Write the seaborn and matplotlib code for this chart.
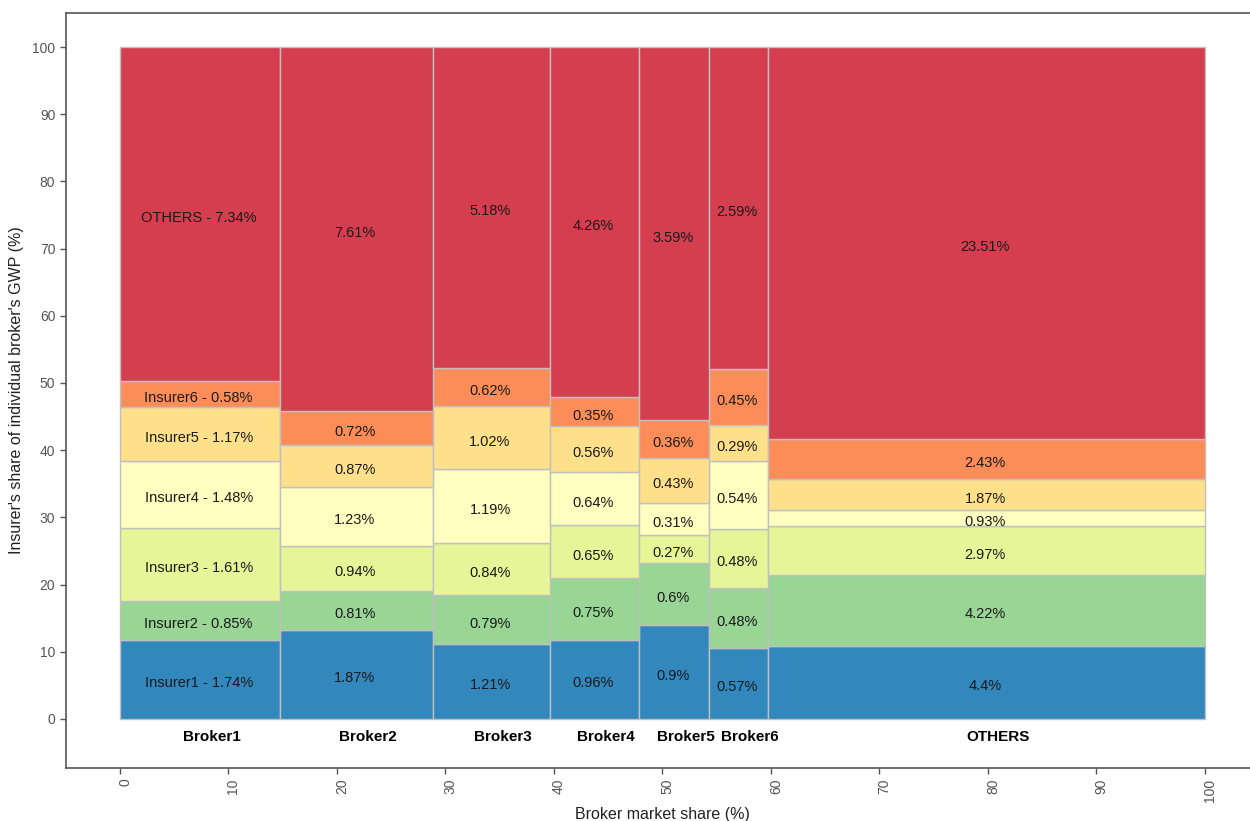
import numpy as np
import matplotlib
matplotlib.use("Agg")
import matplotlib.pyplot as plt
import matplotlib.transforms as mtransforms
import seaborn as sns

brokers = ["Broker1", "Broker2", "Broker3", "Broker4", "Broker5", "Broker6", "OTHERS"]
insurers = ["Insurer1", "Insurer2", "Insurer3", "Insurer4", "Insurer5", "Insurer6", "OTHERS"]
insurer1 = [1.74, 1.87, 1.21, 0.96, 0.9, 0.57, 4.4]
insurer2 = [0.85, 0.81, 0.79, 0.75, 0.6, 0.48, 4.22]
insurer3 = [1.61, 0.94, 0.84, 0.65, 0.27, 0.48, 2.97]
insurer4 = [1.48, 1.23, 1.19, 0.64, 0.31, 0.54, 0.93]
insurer5 = [1.17, 0.87, 1.02, 0.56, 0.43, 0.29, 1.87]
insurer6 = [0.58, 0.72, 0.62, 0.35, 0.36, 0.45, 2.43]
others = [7.34, 7.61, 5.18, 4.26, 3.59, 2.59, 23.51]
colors = ["#3288BD", "#99D594", "#E6F598", "#FFFFBF", "#FEE08B", "#FC8D59", "#D53E4F"]

sns.set_theme(style="white")
plt.rcParams["font.family"] = ["Liberation Sans", "DejaVu Sans"]
palette = sns.color_palette(colors)

vals = np.array([insurer1, insurer2, insurer3, insurer4, insurer5, insurer6, others])
widths = vals.sum(axis=0)
lefts = np.concatenate([[0], np.cumsum(widths)[:-1]])
shares = vals / widths * 100
bottoms = np.vstack([np.zeros(len(brokers)), np.cumsum(shares, axis=0)[:-1]])

fig = plt.figure(figsize=(12.5, 8.21), dpi=100)
total = widths.sum()
xmin, xmax = -0.05 * total, total * 1.05
px_per = (1205 - 120) / 100.0
left_px = 120 + xmin * px_per
right_px = 120 + xmax * px_per
ax = fig.add_axes([left_px / 1250, 1 - 768 / 821, (right_px - left_px) / 1250, (768 - 13) / 821])

seg_tr = mtransforms.offset_copy(ax.transData, fig=fig, x=-1.5, y=-4.0, units="dots")
for i, ins in enumerate(insurers):
    ax.bar(lefts, shares[i], width=widths, bottom=bottoms[i], align="edge",
           color=palette[i], edgecolor="#c0c0c0", linewidth=1.0)
    for j in range(len(brokers)):
        v = vals[i, j]
        lab = f"{ins} - {v:g}%" if j == 0 else f"{v:g}%"
        ax.text(lefts[j] + widths[j] / 2, bottoms[i, j] + shares[i, j] / 2, lab,
                ha="center", va="center", fontsize=10.5, color="#1a1a1a",
                transform=seg_tr)

brk_tr = mtransforms.offset_copy(ax.transData, fig=fig, x=11.5, y=0, units="dots")
for j, b in enumerate(brokers):
    ax.text(lefts[j] + widths[j] / 2, -2.4, b, ha="center", va="center_baseline",
            fontsize=11, fontweight="bold", color="black", transform=brk_tr)

ax.set_xlim(xmin, xmax)
ax.set_ylim(-7.3, 105.06)
ax.set_xticks(np.arange(0, 101, 10))
ax.set_yticks(np.arange(0, 101, 10))
ax.tick_params(axis="x", rotation=90)
ax.tick_params(axis="both", direction="out", length=4, width=1, color="#555555",
               labelcolor="#555555", labelsize=10, bottom=True, left=True)
shift = mtransforms.ScaledTranslation(5 / 100, 0, fig.dpi_scale_trans)
for lbl in ax.get_xticklabels():
    lbl.set_transform(lbl.get_transform() + shift)
for s in ax.spines.values():
    s.set_color("#555555")
    s.set_linewidth(1.2)
ax.set_xlabel("Broker market share (%)", fontsize=11.5, color="#222222", labelpad=4)
ax.set_ylabel("Insurer's share of individual broker's GWP (%)", fontsize=11.5, color="#222222", labelpad=6)
ax.grid(False)

fig.savefig("out.png", dpi=100)
